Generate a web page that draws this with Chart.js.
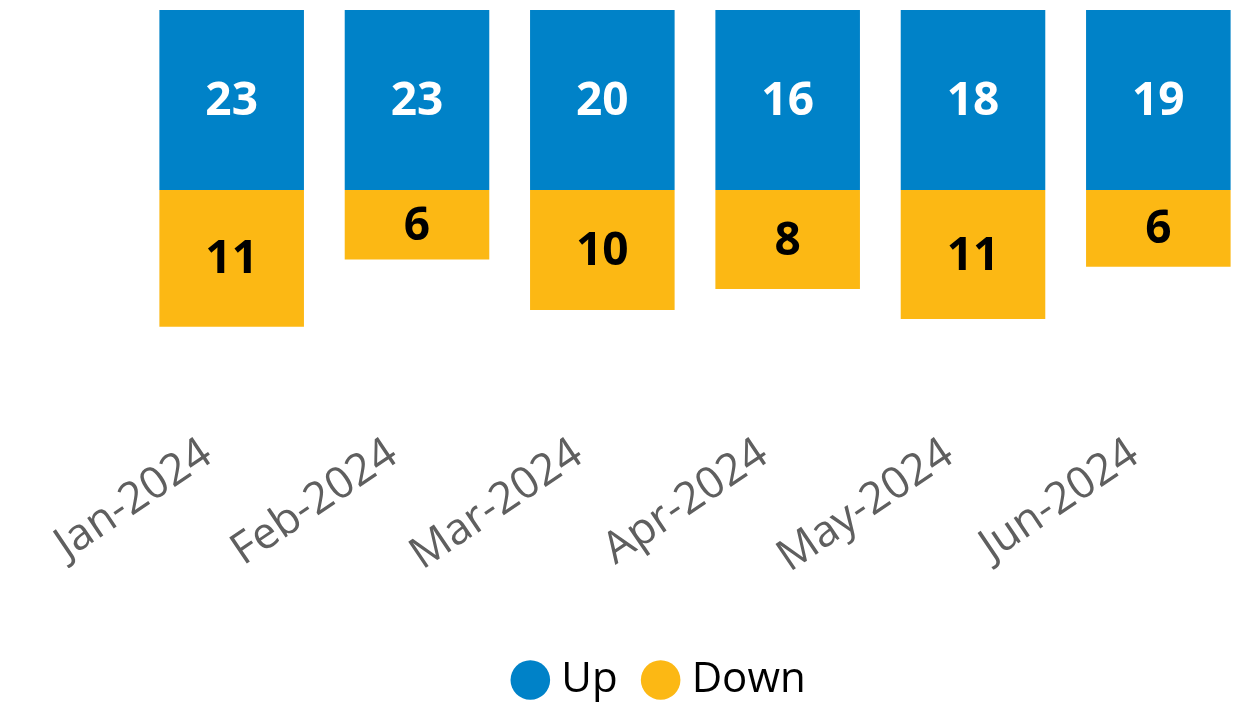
<!DOCTYPE html>
<html>
<head>
<meta charset="utf-8">
<script src="https://cdn.jsdelivr.net/npm/chart.js@4.4.0/dist/chart.umd.min.js"></script>
<style>
  html, body { margin: 0; padding: 0; background: #fff; }
  #wrap { width: 1255px; height: 711px; }
</style>
</head>
<body>
<div id="wrap"><canvas id="chart"></canvas></div>
<script>
const months = ['Jan-2024', 'Feb-2024', 'Mar-2024', 'Apr-2024', 'May-2024', 'Jun-2024'];
const upValues = [23, 23, 20, 16, 18, 19];
const downValues = [-11.4, -5.8, -10, -8.25, -10.75, -6.4];

// draws the number in the middle of the visible part of each bar
const barLabels = {
  id: 'barLabels',
  afterDatasetsDraw(chart) {
    const ctx = chart.ctx;
    const area = chart.chartArea;
    ctx.save();
    chart.data.datasets.forEach((ds, i) => {
      const meta = chart.getDatasetMeta(i);
      meta.data.forEach((bar, j) => {
        const p = bar.getProps(['x', 'y', 'base'], true);
        const top = Math.max(Math.min(p.y, p.base), area.top);
        const bottom = Math.min(Math.max(p.y, p.base), area.bottom);
        ctx.font = 'bold 46px "Open Sans"';
        ctx.fillStyle = ds.labelColor;
        ctx.textAlign = 'center';
        ctx.textBaseline = 'middle';
        ctx.fillText(Math.abs(Math.round(ds.data[j])), p.x, (top + bottom) / 2 + 2);
      });
    });
    ctx.restore();
  }
};

new Chart(document.getElementById('chart'), {
  type: 'bar',
  data: {
    labels: months,
    datasets: [
      { label: 'Up', data: upValues, backgroundColor: '#0082C8', labelColor: '#ffffff' },
      { label: 'Down', data: downValues, backgroundColor: '#FCB814', labelColor: '#000000' }
    ]
  },
  options: {
    responsive: true,
    maintainAspectRatio: false,
    animation: false,
    categoryPercentage: 1,
    barPercentage: 0.78,
    layout: { padding: { left: 75, right: 4, top: 10, bottom: 0 } },
    scales: {
      x: {
        stacked: true,
        grid: { display: false, drawTicks: false },
        border: { display: false },
        ticks: {
          minRotation: 34,
          maxRotation: 34,
          padding: 10,
          labelOffset: -24,
          color: '#5F5F5F',
          font: { family: 'Open Sans', size: 44 }
        },
        afterFit(scale) { scale.height += 32; }
      },
      y: {
        stacked: true,
        min: -19,
        max: 15,
        grid: { display: false, drawTicks: false },
        border: { display: false },
        ticks: { display: false },
        afterFit(scale) { scale.width = 64; }
      }
    },
    plugins: {
      legend: {
        position: 'bottom',
        labels: {
          usePointStyle: true,
          pointStyle: 'circle',
          boxWidth: 20,
          boxHeight: 28,
          color: '#000000',
          padding: 33,
          font: { family: 'Open Sans', size: 42 }
        }
      },
      tooltip: { enabled: false }
    }
  },
  plugins: [barLabels]
});
</script>
</body>
</html>
